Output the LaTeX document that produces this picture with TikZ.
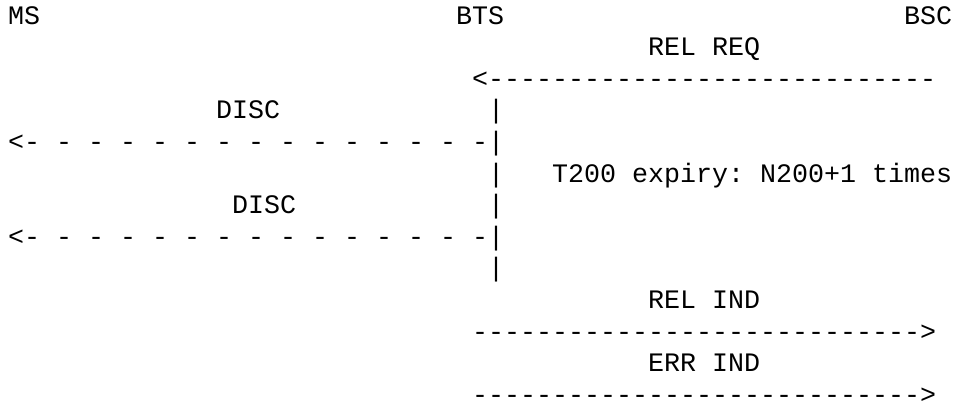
\documentclass[tikz,border=0pt]{standalone}
\usepackage{fontspec}
\setmonofont{Liberation Mono}

\begin{document}
\begin{tikzpicture}[x=12pt, y=-23.7pt,
  msg/.style={font=\ttfamily\fontsize{20pt}{24pt}\selectfont,
              anchor=base west, inner sep=0pt, outer sep=0pt}]

%---------------------------------------
% Grid: one unit = one character cell / one text line
%---------------------------------------
\def\cBTS{28}
\def\cBSC{56}
\def\cBar{30}
\def\cLbl{40}

\useasboundingbox (-0.5,-0.76) rectangle (59.25,11.99);

% ---- Entities ----
\node[msg] (ms)  at (0,0)      {MS};
\node[msg] (bts) at (\cBTS,0)  {BTS};
\node[msg] (bsc) at (\cBSC,0)  {BSC};

% ---- BSC -> BTS: release request ----
\node[msg] (relreq)  at (\cLbl,1) {REL REQ};
\node[msg] (relreqa) at (29,2)    {<----------------------------};

% ---- BTS -> MS: DISC, repeated ----
\node[msg] (disc1)  at (13,3)    {DISC};
\node[msg] (bar3)   at (\cBar,3) {|};
\node[msg] (disc1a) at (0,4)     {<- - - - - - - - - - - - - - -|};
\node[msg] (bar5)   at (\cBar,5) {|};
\node[msg] (t200)   at (34,5)    {T200 expiry: N200+1 times};
\node[msg] (disc2)  at (14,6)    {DISC};
\node[msg] (bar6)   at (\cBar,6) {|};
\node[msg] (disc2a) at (0,7)     {<- - - - - - - - - - - - - - -|};
\node[msg] (bar8)   at (\cBar,8) {|};

% ---- BTS -> BSC: indications ----
\node[msg] (relind)  at (\cLbl,9)  {REL IND};
\node[msg] (relinda) at (29,10)    {---------------------------->};
\node[msg] (errind)  at (\cLbl,11) {ERR IND};
% last line sits on the lower edge, as in the reference
\node[msg, text depth=0pt] (errinda) at (29,12) {---------------------------->};

\end{tikzpicture}
\end{document}
